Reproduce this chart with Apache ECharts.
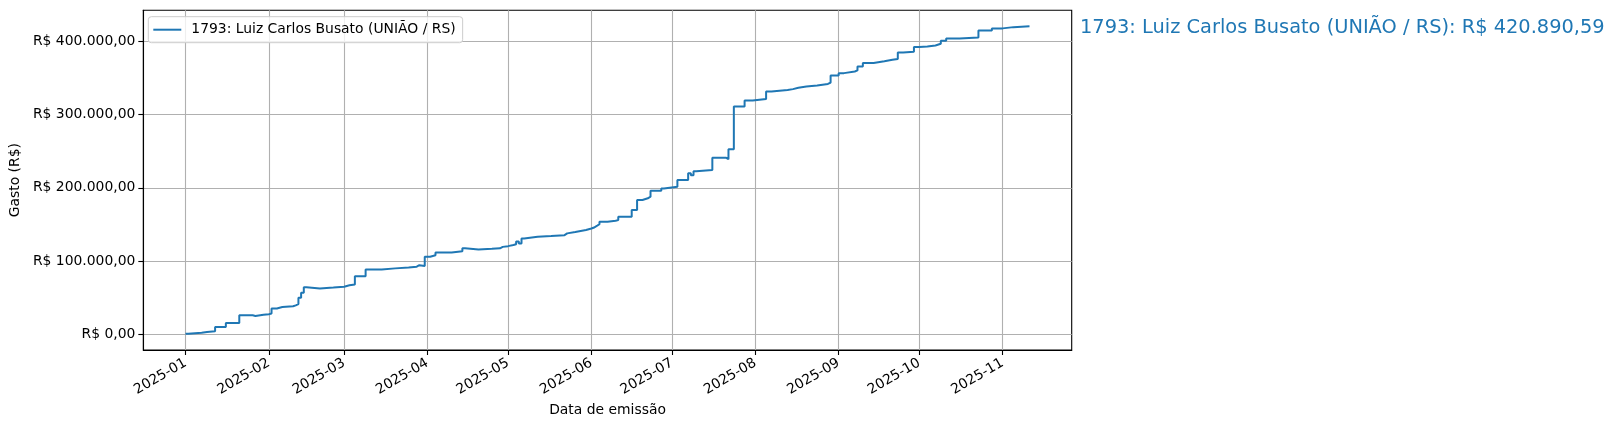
<!DOCTYPE html>
<html>
<head>
<meta charset="utf-8">
<script src="https://cdn.jsdelivr.net/npm/echarts@6/dist/echarts.min.js"></script>
<style>
html,body{margin:0;padding:0;background:#fff;}
#chart{width:1616px;height:430px;}
</style>
</head>
<body>
<div id="chart"></div>
<script>
const seriesName = '1793: Luiz Carlos Busato (UNIÃO / RS)';
const dates = [
'2025-01-01','2025-01-02','2025-01-07','2025-01-09','2025-01-12','2025-01-16','2025-01-21','2025-01-26','2025-01-27','2025-01-30',
'2025-02-01','2025-02-02','2025-02-04','2025-02-06','2025-02-10','2025-02-11','2025-02-12','2025-02-13','2025-02-14','2025-02-15',
'2025-02-20','2025-02-25','2025-03-01','2025-03-03','2025-03-05','2025-03-09','2025-03-15','2025-03-20','2025-03-25','2025-03-28',
'2025-03-29','2025-03-31','2025-04-02','2025-04-04','2025-04-10','2025-04-14','2025-04-15','2025-04-20','2025-04-25','2025-04-28',
'2025-04-29','2025-05-01','2025-05-03','2025-05-04','2025-05-05','2025-05-06','2025-05-07','2025-05-12','2025-05-17','2025-05-22',
'2025-05-23','2025-05-26','2025-05-30','2025-06-01','2025-06-02','2025-06-03','2025-06-04','2025-06-07','2025-06-10','2025-06-11',
'2025-06-16','2025-06-18','2025-06-20','2025-06-22','2025-06-23','2025-06-27','2025-06-28','2025-07-03','2025-07-07','2025-07-08',
'2025-07-09','2025-07-10','2025-07-16','2025-07-21','2025-07-22','2025-07-24','2025-07-28','2025-07-31','2025-08-05','2025-08-07',
'2025-08-13','2025-08-15','2025-08-17','2025-08-20','2025-08-24','2025-08-28','2025-08-29','2025-09-01','2025-09-03','2025-09-07',
'2025-09-08','2025-09-10','2025-09-14','2025-09-18','2025-09-21','2025-09-23','2025-09-25','2025-09-29','2025-10-01','2025-10-04',
'2025-10-07','2025-10-09','2025-10-11','2025-10-16','2025-10-23','2025-10-28','2025-11-01','2025-11-05','2025-11-11'
];
const values = [
1200,2400,3600,4400,10400,15800,26300,25300,26900,27800,
28600,35500,37500,38500,39800,41500,50000,57000,64500,62800,
64000,65200,67300,68300,79600,88700,90200,91500,92500,94500,
93400,106000,108000,112000,113500,117500,116000,116800,117600,119500,
120500,122000,123000,127000,124200,131000,133200,134300,135500,137900,
139800,142400,144500,145900,148000,150500,153700,155000,156000,160600,
169700,183300,185700,187900,196000,199000,201500,210700,219800,217000,
222500,224300,241100,239000,252600,310700,318900,321200,331200,333200,
334500,336500,338000,339300,341500,343500,353000,356300,358600,360000,
365300,370000,372500,374500,375500,384400,385500,391800,392500,394000,
396300,400400,403600,404800,414500,417300,419000,420200,420890.59
];
const yTicks = [0, 100000, 200000, 300000, 400000];
const xTicks = ['2025-01-01','2025-02-01','2025-03-01','2025-04-01','2025-05-01','2025-06-01','2025-07-01','2025-08-01','2025-09-01','2025-10-01','2025-11-01'];

function brl(v) {
  const neg = v < 0;
  const fixed = Math.abs(v).toFixed(2);
  let [ip, dp] = fixed.split('.');
  ip = ip.replace(/\B(?=(\d{3})+(?!\d))/g, '.');
  return 'R$ ' + (neg ? '-' : '') + ip + ',' + dp;
}
function ts(s) { const p = s.split('-').map(Number); return Date.UTC(p[0], p[1]-1, p[2]); }
function ym(v) { const d = new Date(v); return d.getUTCFullYear() + '-' + String(d.getUTCMonth()+1).padStart(2, '0'); }

const data = dates.map((d, i) => [ts(d), values[i]]);
const xFirst = data[0][0], xLast = data[data.length-1][0];
const xPad = (xLast - xFirst) * 0.05;
const yLo = Math.min(...values, 0), yHi = Math.max(...values);
const yPad = (yHi - yLo) * 0.05;
const xTickVals = xTicks.map(ts);
const total = values[values.length-1];
const font = 'DejaVu Sans';

const chart = echarts.init(document.getElementById('chart'), null, {renderer: 'canvas'});
chart.setOption({
  animation: false,
  backgroundColor: '#fff',
  grid: {left: 141.3, top: 10.3, right: 544.3, bottom: 80, show: true, borderColor: '#000', borderWidth: 1.1, backgroundColor: 'transparent'},
  legend: {
    show: true, left: 148.3, top: 16.7, orient: 'horizontal',
    itemWidth: 28, itemHeight: 12,
    padding: [6, 7, 6, 5],
    borderColor: '#cccccc', borderWidth: 1, borderRadius: 3,
    backgroundColor: 'rgba(255,255,255,0.8)',
    textStyle: {fontFamily: font, fontSize: 13.9, color: '#000', padding: [0, 0, 0, 5]},
    data: [{name: seriesName, icon: 'path://M0,0 L28,0 L28,2 L0,2 Z'}]
  },
  graphic: [{
    type: 'text', left: 1080, top: 18,
    style: {text: seriesName + ': ' + brl(total), fontFamily: font, fontSize: 19.4, fill: '#1f77b4'}
  }],
  xAxis: {
    type: 'value',
    min: xFirst - xPad, max: xLast + xPad,
    name: 'Data de emissão', nameLocation: 'middle', nameGap: 52,
    nameTextStyle: {fontFamily: font, fontSize: 13.9, color: '#000'},
    axisLine: {show: true, onZero: false, lineStyle: {color: '#000', width: 1.1}},
    axisTick: {show: true, length: 5, inside: false, lineStyle: {color: '#000', width: 1.1}, customValues: xTickVals},
    axisLabel: {
      rotate: 30, margin: 12, fontFamily: font, fontSize: 13.9, color: '#000',
      customValues: xTickVals, showMinLabel: true, showMaxLabel: true,
      formatter: ym
    },
    splitLine: {show: true, lineStyle: {color: '#b0b0b0', width: 1.1}, customValues: xTickVals}
  },
  yAxis: {
    type: 'value',
    min: yLo - yPad, max: yHi + yPad,
    name: 'Gasto (R$)', nameLocation: 'middle', nameGap: 120, nameRotate: 90,
    nameTextStyle: {fontFamily: font, fontSize: 13.9, color: '#000'},
    axisLine: {show: true, onZero: false, lineStyle: {color: '#000', width: 1.1}},
    axisTick: {show: true, length: 5, inside: false, lineStyle: {color: '#000', width: 1.1}, customValues: yTicks},
    axisLabel: {margin: 8, fontFamily: font, fontSize: 13.9, color: '#000', customValues: yTicks, formatter: brl},
    splitLine: {show: true, lineStyle: {color: '#b0b0b0', width: 1.1}, customValues: yTicks}
  },
  series: [{
    name: seriesName,
    type: 'line',
    step: 'end',
    showSymbol: false,
    symbol: 'none',
    data: data,
    lineStyle: {color: '#1f77b4', width: 2},
    itemStyle: {color: '#1f77b4'}
  }]
});
</script>
</body>
</html>
